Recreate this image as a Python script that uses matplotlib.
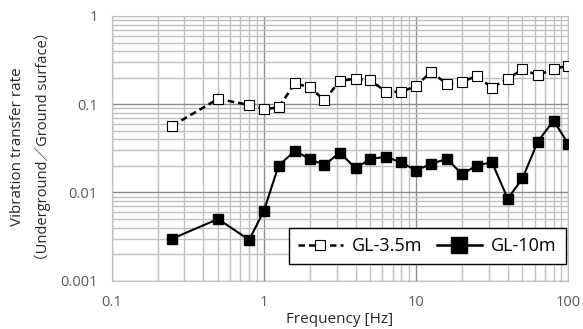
import matplotlib
matplotlib.use("Agg")
import matplotlib.pyplot as plt
from matplotlib.lines import Line2D
from matplotlib.ticker import LogLocator, NullFormatter, FixedLocator

plt.rcParams['font.family'] = ['Open Sans', 'Noto Sans CJK JP', 'DejaVu Sans']

# 1/3-octave band centres used in the chart
freq = [0.25, 0.5, 0.8, 1, 1.25, 1.6, 2, 2.5, 3.15, 4, 5, 6.3, 8, 10,
        12.5, 16, 20, 25, 31.5, 40, 50, 63, 80, 100]
gl_35 = [0.057, 0.115, 0.098, 0.088, 0.092, 0.173, 0.155, 0.111, 0.185, 0.194,
         0.188, 0.139, 0.138, 0.161, 0.232, 0.170, 0.179, 0.209, 0.154, 0.194,
         0.249, 0.213, 0.251, 0.274]
gl_10 = [0.0030, 0.0050, 0.0029, 0.0062, 0.0202, 0.0296, 0.0239, 0.0205, 0.0283,
         0.0188, 0.0240, 0.0253, 0.0220, 0.0177, 0.0211, 0.0240, 0.0161, 0.0202,
         0.0220, 0.0085, 0.0144, 0.0377, 0.0653, 0.0355]
labels = ["GL-3.5m", "GL-10m"]

fig = plt.figure(figsize=(5.83, 3.29), dpi=100)
ax = fig.add_axes([0.1916, 0.1468, 0.7832, 0.8046])

dash = (0, (2.6, 1.6))
ax.plot(freq, gl_35, color='black', lw=1.8, ls=dash,
        marker='s', ms=7, mfc='white', mec='black', mew=0.8, zorder=3)
ax.plot(freq, gl_10, color='black', lw=1.5, ls='-',
        marker='s', ms=7.5, mfc='black', mec='black', zorder=3)

ax.set_xscale('log')
ax.set_yscale('log')
ax.set_xlim(0.1, 100)
ax.set_ylim(0.001, 1)

ax.xaxis.set_major_locator(FixedLocator([0.1, 1, 10, 100]))
ax.yaxis.set_major_locator(FixedLocator([0.001, 0.01, 0.1, 1]))
ax.set_xticklabels(["0.1", "1", "10", "100"])
ax.set_yticklabels(["0.001", "0.01", "0.1", "1"])
ax.xaxis.set_minor_locator(LogLocator(base=10, subs=range(2, 10), numticks=20))
ax.yaxis.set_minor_locator(LogLocator(base=10, subs=range(2, 10), numticks=20))
ax.xaxis.set_minor_formatter(NullFormatter())
ax.yaxis.set_minor_formatter(NullFormatter())

ax.grid(which='major', color='#8c8c8c', lw=1.0)
ax.grid(which='minor', color='#c0c0c0', lw=1.0)
ax.set_axisbelow(True)
ax.tick_params(which='both', length=0, labelsize=10.5, labelcolor='#595959', pad=10)
for s in ax.spines.values():
    s.set_color('#c0c0c0')

ax.set_xlabel("Frequency [Hz]", fontsize=11, color='#262626', labelpad=2)
fig.text(0.030, 0.555, "Vibration transfer rate", rotation=90, fontsize=11,
         color='#262626', ha='center', va='center')
fig.text(0.073, 0.555, "（Underground／Ground surface）", rotation=90, fontsize=10.5,
         color='#262626', ha='center', va='center')

handles = [
    Line2D([], [], color='black', lw=1.8, ls=dash, marker='s', ms=7.5,
           mfc='white', mec='black', mew=0.8),
    Line2D([], [], color='black', lw=1.8, ls='-', marker='s', ms=12,
           mfc='black', mec='black'),
]
leg = ax.legend(handles, labels, loc='lower right', ncol=2, fontsize=13,
                frameon=True, fancybox=False, edgecolor='black', framealpha=1,
                handlelength=2.5, handletextpad=0.5, columnspacing=0.8,
                borderpad=0.5, borderaxespad=0, bbox_to_anchor=(0.994, 0.063))
leg.get_frame().set_linewidth(1.0)

fig.savefig("out.png", dpi=100)
